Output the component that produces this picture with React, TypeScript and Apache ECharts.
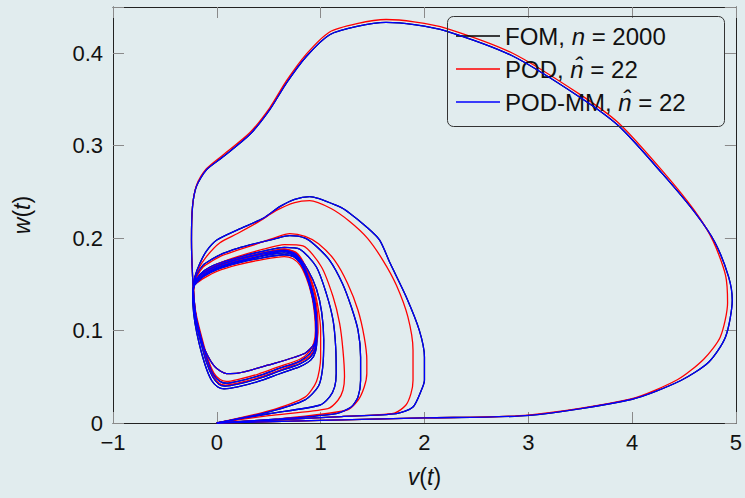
import React, { useEffect, useRef } from 'react';
import * as echarts from 'echarts';

type P = [number, number];

// axis ticks / labels
const xTickValues = [-1, 0, 1, 2, 3, 4, 5];
const xTickLabels = ['\u22121', '0', '1', '2', '3', '4', '5'];
const yTickValues = [0, 0.1, 0.2, 0.3, 0.4];
const yTickLabels = ['0', '0.1', '0.2', '0.3', '0.4'];

// legend
const legendNames = ['FOM', 'POD', 'POD-MM'];
const legendTexts = ['FOM, {i|n} = 2000', 'POD, {i|n\u0302} = 22', 'POD-MM, {i|n\u0302} = 22'];

// ---------- POD-MM (blue); FOM is hidden under it ----------
const blueBig: P[] = [
  [0, 0], [1, 0.0028], [2, 0.0055], [3.01, 0.0083], [4.0, 0.0257], [4.47, 0.046], [4.74, 0.066],
  [4.9, 0.093], [4.965, 0.133], [4.93, 0.158], [4.8, 0.195], [4.61, 0.227], [4.29, 0.27],
  [3.875, 0.321], [3.49, 0.353], [2.85, 0.397], [2.21, 0.424], [1.9, 0.431], [1.63, 0.4334],
  [1.35, 0.429], [1.087, 0.42], [0.862, 0.3965], [0.67, 0.3677], [0.51, 0.339], [0.317, 0.312],
  [0.06, 0.288], [-0.1, 0.274], [-0.196, 0.256], [-0.234, 0.234], [-0.244, 0.198], [-0.238, 0.17],
  [-0.22, 0.135], [-0.18, 0.1], [-0.115, 0.079], [-0.02, 0.061], [0.093, 0.0535], [0.205, 0.054],
  [0.49, 0.0625], [0.846, 0.0752], [0.94, 0.086], [0.958, 0.1004], [0.945, 0.122], [0.9, 0.146],
  [0.84, 0.166], [0.76, 0.181], [0.65, 0.186], [0.45, 0.181], [0.2, 0.174], [0, 0.167],
  [-0.15, 0.158], [-0.21, 0.152],
];
const blueLoop2: P[] = [
  [0, 0], [0.6, 0.0035], [1.2, 0.007], [1.73, 0.0102], [1.89, 0.0173], [1.97, 0.0354], [2.0, 0.0463],
  [2.0, 0.0715], [1.95, 0.1004], [1.824, 0.1365], [1.67, 0.1727], [1.567, 0.198], [1.44, 0.2123],
  [1.28, 0.227], [1.18, 0.234], [0.894, 0.2449], [0.75, 0.242], [0.606, 0.234], [0.446, 0.2214],
  [0.2, 0.209], [0, 0.198], [-0.1, 0.186], [-0.163, 0.1727], [-0.212, 0.158], [-0.225, 0.148],
];
const blueLoop3: P[] = [
  [0, 0], [0.6, 0.0045], [1.15, 0.0102], [1.295, 0.0173], [1.36, 0.0282], [1.385, 0.0463],
  [1.385, 0.0715], [1.36, 0.1004], [1.295, 0.1257], [1.21, 0.151], [1.087, 0.176], [0.95, 0.192],
  [0.85, 0.2], [0.702, 0.2026], [0.55, 0.199], [0.38, 0.1944], [0.2, 0.189], [0.06, 0.1835],
  [-0.05, 0.177], [-0.13, 0.171], [-0.195, 0.16], [-0.22, 0.15],
];
const blueLoop4: P[] = [
  [0, 0], [0.5, 0.01], [0.99, 0.0192], [1.087, 0.0282], [1.135, 0.039], [1.15, 0.0535],
  [1.145, 0.0823], [1.12, 0.111], [1.055, 0.14], [0.958, 0.169], [0.8, 0.188], [0.65, 0.19],
  [0.45, 0.186], [0.2, 0.179], [0, 0.172], [-0.12, 0.165], [-0.2, 0.155], [-0.225, 0.145],
];
const blueLoop5: P[] = [
  [0, 0], [0.5, 0.012], [0.85, 0.025], [0.98, 0.04], [1.02, 0.06], [1.03, 0.09], [1.01, 0.12],
  [0.96, 0.145], [0.88, 0.165], [0.78, 0.18], [0.65, 0.186], [0.45, 0.183], [0.2, 0.177],
  [0, 0.17], [-0.12, 0.163], [-0.2, 0.155], [-0.228, 0.145],
];
const blueCycle1: P[] = [
  [-0.228, 0.145], [-0.225, 0.13], [-0.205, 0.112], [-0.16, 0.09], [-0.1, 0.066], [-0.04, 0.05],
  [0.02, 0.042], [0.08, 0.04], [0.2, 0.042], [0.4, 0.048], [0.6, 0.056], [0.8, 0.064], [0.9, 0.071],
  [0.945, 0.08], [0.96, 0.095], [0.955, 0.115], [0.93, 0.135], [0.88, 0.155], [0.82, 0.172],
  [0.75, 0.181], [0.65, 0.184], [0.45, 0.181], [0.2, 0.175], [0, 0.168], [-0.12, 0.161],
  [-0.2, 0.153], [-0.228, 0.145],
];
const blueCycle2: P[] = [
  [-0.225, 0.148], [-0.222, 0.133], [-0.2, 0.115], [-0.15, 0.092], [-0.09, 0.068], [-0.03, 0.052],
  [0.03, 0.045], [0.09, 0.043], [0.2, 0.045], [0.4, 0.051], [0.6, 0.059], [0.8, 0.067],
  [0.895, 0.075], [0.94, 0.084], [0.955, 0.098], [0.948, 0.117], [0.92, 0.138], [0.87, 0.157],
  [0.81, 0.172], [0.74, 0.18], [0.65, 0.182], [0.45, 0.179], [0.2, 0.173], [0, 0.166],
  [-0.12, 0.159], [-0.2, 0.151], [-0.225, 0.148],
];
const blueCycle3: P[] = [
  [-0.232, 0.143], [-0.23, 0.128], [-0.21, 0.108], [-0.17, 0.086], [-0.11, 0.062], [-0.05, 0.046],
  [0.01, 0.039], [0.07, 0.037], [0.2, 0.039], [0.4, 0.045], [0.6, 0.053], [0.8, 0.061],
  [0.905, 0.068], [0.95, 0.077], [0.965, 0.093], [0.962, 0.113], [0.94, 0.134], [0.89, 0.155],
  [0.83, 0.172], [0.76, 0.183], [0.65, 0.187], [0.45, 0.184], [0.2, 0.177], [0, 0.17],
  [-0.12, 0.163], [-0.2, 0.155], [-0.232, 0.143],
];

// ---------- POD (red) ----------
const redBig: P[] = [
  [0, 0], [1, 0.0028], [2, 0.0055], [3.0, 0.0085], [3.99, 0.026], [4.44, 0.047], [4.69, 0.069],
  [4.85, 0.093], [4.92, 0.13], [4.9, 0.16], [4.78, 0.197], [4.6, 0.23], [4.29, 0.273],
  [3.875, 0.324], [3.49, 0.356], [2.85, 0.4], [2.21, 0.427], [1.9, 0.434], [1.63, 0.4365],
  [1.35, 0.432], [1.087, 0.423], [0.862, 0.399], [0.67, 0.37], [0.51, 0.341], [0.317, 0.314],
  [0.06, 0.29], [-0.1, 0.275], [-0.196, 0.257], [-0.234, 0.234], [-0.244, 0.198], [-0.238, 0.17],
  [-0.22, 0.135], [-0.18, 0.1], [-0.115, 0.079], [-0.02, 0.061], [0.093, 0.0535], [0.205, 0.054],
  [0.49, 0.0625], [0.846, 0.0752], [0.94, 0.086], [0.958, 0.1004], [0.95, 0.122], [0.91, 0.147],
  [0.85, 0.168], [0.77, 0.183], [0.65, 0.188], [0.45, 0.183], [0.2, 0.176], [0, 0.169],
  [-0.15, 0.16], [-0.21, 0.154],
];
const redLoop2: P[] = [
  [0, 0], [0.6, 0.0035], [1.2, 0.007], [1.71, 0.0108], [1.82, 0.0192], [1.87, 0.0318], [1.89, 0.0463],
  [1.89, 0.0788], [1.84, 0.115], [1.73, 0.149], [1.6, 0.176], [1.45, 0.2], [1.28, 0.218],
  [1.1, 0.232], [0.894, 0.2405], [0.75, 0.2385], [0.574, 0.23], [0.4, 0.2175], [0.2, 0.205],
  [0.03, 0.195], [-0.1, 0.18], [-0.18, 0.166], [-0.215, 0.153],
];
const redLoop3: P[] = [
  [0, 0], [0.6, 0.0045], [1.247, 0.0138], [1.36, 0.0246], [1.42, 0.039], [1.445, 0.0535],
  [1.445, 0.068], [1.42, 0.093], [1.36, 0.122], [1.26, 0.151], [1.135, 0.176], [0.98, 0.194],
  [0.85, 0.202], [0.702, 0.2048], [0.55, 0.2], [0.38, 0.1935], [0.2, 0.187], [0.06, 0.1815],
  [-0.05, 0.175], [-0.13, 0.169], [-0.195, 0.158], [-0.22, 0.149],
];
const redLoop4: P[] = [
  [0, 0], [0.5, 0.008], [1.07, 0.0156], [1.167, 0.0246], [1.215, 0.0354], [1.23, 0.05],
  [1.215, 0.0788], [1.183, 0.1077], [1.12, 0.1365], [1.007, 0.169], [0.83, 0.1915], [0.65, 0.193],
  [0.45, 0.188], [0.2, 0.18], [0, 0.172], [-0.12, 0.164], [-0.2, 0.154], [-0.225, 0.144],
];
const redLoop5: P[] = [
  [0, 0], [0.5, 0.013], [0.85, 0.028], [0.96, 0.045], [1.0, 0.07], [1.0, 0.1], [0.975, 0.125],
  [0.93, 0.148], [0.86, 0.168], [0.77, 0.182], [0.65, 0.188], [0.45, 0.184], [0.2, 0.178],
  [0, 0.171], [-0.12, 0.163], [-0.2, 0.154], [-0.225, 0.144],
];
const redCycle1: P[] = [
  [-0.226, 0.146], [-0.223, 0.131], [-0.203, 0.113], [-0.157, 0.091], [-0.097, 0.067], [-0.037, 0.051],
  [0.023, 0.043], [0.083, 0.041], [0.2, 0.043], [0.4, 0.049], [0.6, 0.057], [0.8, 0.066], [0.9, 0.073],
  [0.95, 0.083], [0.975, 0.098], [0.97, 0.118], [0.945, 0.138], [0.895, 0.158], [0.83, 0.175],
  [0.76, 0.185], [0.65, 0.188], [0.45, 0.184], [0.2, 0.177], [0, 0.17], [-0.12, 0.162],
  [-0.2, 0.154], [-0.226, 0.146],
];
const redCycle2: P[] = [
  [-0.222, 0.15], [-0.22, 0.135], [-0.198, 0.117], [-0.148, 0.094], [-0.088, 0.07], [-0.028, 0.054],
  [0.032, 0.047], [0.092, 0.045], [0.2, 0.047], [0.4, 0.053], [0.6, 0.061], [0.8, 0.069],
  [0.89, 0.077], [0.935, 0.087], [0.95, 0.1], [0.94, 0.119], [0.912, 0.139], [0.862, 0.157],
  [0.8, 0.171], [0.73, 0.178], [0.65, 0.18], [0.45, 0.177], [0.2, 0.171], [0, 0.164],
  [-0.12, 0.157], [-0.2, 0.151], [-0.222, 0.15],
];

const fomParts: P[][] = [blueBig, blueLoop2, blueLoop3, blueLoop4, blueLoop5, blueCycle1, blueCycle2, blueCycle3];
const podParts: P[][] = [redBig, redLoop2, redLoop3, redLoop4, redLoop5, redCycle1, redCycle2];
const podmmParts: P[][] = [blueBig, blueLoop2, blueLoop3, blueLoop4, blueLoop5, blueCycle1, blueCycle2, blueCycle3];

const FONT = '"Liberation Sans", Arial, sans-serif';
const BG = '#e1ecee';

export default function App() {
  const ref = useRef<HTMLDivElement>(null);
  useEffect(() => {
    document.body.style.margin = '0';
    const chart = echarts.init(ref.current!, null, { renderer: 'svg' });
    const mk = (name: string, color: string, data: P[], z: number) => ({
      type: 'line',
      name,
      data,
      symbol: 'none',
      showSymbol: false,
      silent: true,
      smooth: 0.25,
      z,
      lineStyle: { color, width: 1.3 },
      itemStyle: { color },
    });
    const series: any[] = [
      ...fomParts.map((d) => mk(legendNames[0], '#000000', d, 2)),
      ...podParts.map((d) => mk(legendNames[1], '#ff0000', d, 3)),
      ...podmmParts.map((d) => mk(legendNames[2], '#0000ff', d, 4)),
    ];
    const fmtX = (v: number) => {
      const i = xTickValues.findIndex((t) => Math.abs(t - v) < 1e-9);
      return i >= 0 ? xTickLabels[i] : '';
    };
    const fmtY = (v: number) => {
      const i = yTickValues.findIndex((t) => Math.abs(t - v) < 1e-9);
      return i >= 0 ? yTickLabels[i] : '';
    };
    const tick = { show: true, inside: true, length: 11, lineStyle: { color: '#8a8a8a', width: 1 } };
    const line = { show: true, onZero: false, lineStyle: { color: '#222', width: 1 } };
    const italic = { fontSize: 23, fontStyle: 'italic', fontFamily: FONT, color: '#111' };
    const option: any = {
      animation: false,
      backgroundColor: BG,
      grid: { left: 113, right: 8, top: 7, bottom: 75, containLabel: false },
      xAxis: [
        {
          type: 'value', min: -1, max: 5, interval: 1, position: 'bottom',
          axisLine: line, axisTick: tick, splitLine: { show: false },
          axisLabel: { formatter: fmtX, fontSize: 22, color: '#111', fontFamily: FONT, margin: 8 },
          name: '{i|v}({i|t})', nameLocation: 'middle', nameGap: 42,
          nameTextStyle: { fontSize: 23, color: '#111', fontFamily: FONT, rich: { i: italic } },
        },
        {
          type: 'value', min: -1, max: 5, interval: 1, position: 'top',
          axisLine: line, axisTick: tick, splitLine: { show: false }, axisLabel: { show: false },
        },
      ],
      yAxis: [
        {
          type: 'value', min: 0, max: 0.45, interval: 0.1, position: 'left',
          axisLine: line, axisTick: tick, splitLine: { show: false },
          axisLabel: { formatter: fmtY, fontSize: 22, color: '#111', fontFamily: FONT, margin: 10 },
          name: '{i|w}({i|t})', nameLocation: 'middle', nameGap: 80,
          nameTextStyle: { fontSize: 23, color: '#111', fontFamily: FONT, rich: { i: italic } },
        },
        {
          type: 'value', min: 0, max: 0.45, interval: 0.1, position: 'right',
          axisLine: line, axisTick: tick, splitLine: { show: false }, axisLabel: { show: false },
        },
      ],
      legend: {
        data: legendNames,
        orient: 'vertical',
        left: 456,
        top: 24,
        padding: 0,
        icon: 'rect',
        itemWidth: 44,
        itemHeight: 1.5,
        itemGap: 9,
        selectedMode: false,
        formatter: (name: string) => legendTexts[legendNames.indexOf(name)],
        textStyle: {
          fontSize: 24, color: '#111', fontFamily: FONT, lineHeight: 24,
          rich: { i: { fontSize: 24, fontStyle: 'italic', fontFamily: FONT, color: '#111', lineHeight: 24 } },
        },
      },
      graphic: [
        {
          type: 'rect',
          z: 10,
          shape: { x: 447.5, y: 16.5, width: 277, height: 110, r: 6 },
          style: { fill: 'none', stroke: '#333', lineWidth: 1 },
          silent: true,
        },
      ],
      series,
    };
    chart.setOption(option);
    return () => chart.dispose();
  }, []);
  return <div ref={ref} style={{ width: 745, height: 498 }} />;
}
